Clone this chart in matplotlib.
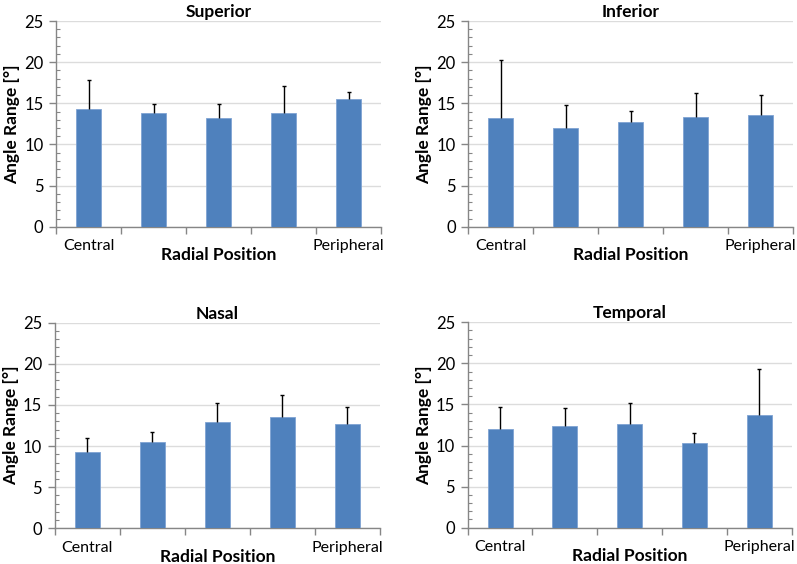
"""Angle range by radial position for four retinal quadrants"""
import matplotlib
matplotlib.use("Agg")
import matplotlib.pyplot as plt
from matplotlib.ticker import MultipleLocator, FixedLocator

plt.rcParams['font.family'] = ['Lato', 'DejaVu Sans']

positions = ['Central', '', '', '', 'Peripheral']

superior_mean = [14.3, 13.8, 13.25, 13.8, 15.5]
superior_sd = [3.5, 1.15, 1.62, 3.35, 0.83]
inferior_mean = [13.17, 12.0, 12.68, 13.37, 13.53]
inferior_sd = [7.05, 2.75, 1.42, 2.92, 2.47]
nasal_mean = [9.28, 10.49, 12.89, 13.5, 12.65]
nasal_sd = [1.74, 1.22, 2.31, 2.76, 2.07]
temporal_mean = [12.01, 12.34, 12.58, 10.27, 13.72]
temporal_sd = [2.72, 2.23, 2.56, 1.26, 5.56]

BAR = '#4F81BD'
GRID = '#DCDCDC'
AXIS = '#868686'


def plot_panel(ax, title, mean, sd):
    """Draws one bar panel with upward-only error bars"""
    x = list(range(len(mean)))
    top = [m + s for m, s in zip(mean, sd)]
    ax.bar(x, mean, width=0.385, color=BAR, edgecolor='#7FA3D3',
           linewidth=0.6, zorder=3)
    # plus-only error bars, like the Excel original
    ax.vlines(x, mean, top, color='black', linewidth=1.0, zorder=4)
    ax.plot(x, top, linestyle='none', marker='_', markersize=3.5,
            markeredgewidth=1.0, color='black', zorder=4)

    ax.set_xlim(-0.5, len(mean) - 0.5)
    ax.set_ylim(0, 25)
    ax.yaxis.set_major_locator(MultipleLocator(5))
    ax.yaxis.set_minor_locator(MultipleLocator(1))
    ax.grid(axis='y', which='major', color=GRID, linewidth=1.0, zorder=0)

    ax.set_xticks(x, positions)
    ax.xaxis.set_minor_locator(
        FixedLocator([i - 0.5 for i in range(len(mean) + 1)]))
    ax.tick_params(axis='x', which='major', length=0, pad=9,
                   labelsize=11.5, labelcolor='black')
    ax.tick_params(axis='x', which='minor', length=5, width=1.0,
                   color=AXIS, direction='out')
    ax.tick_params(axis='y', which='major', length=5, width=1.0,
                   color=AXIS, direction='out', labelsize=12, pad=4)
    ax.tick_params(axis='y', which='minor', length=3, width=0.8,
                   color=AXIS, direction='in')

    for side in ['top', 'right']:
        ax.spines[side].set_visible(False)
    for side in ['left', 'bottom']:
        ax.spines[side].set_color(AXIS)
        ax.spines[side].set_linewidth(1.0)

    ax.set_title(title, fontsize=12.5, fontweight='bold', pad=3)
    ax.set_ylabel('Angle Range [°]', fontsize=12.5, fontweight='bold',
                  labelpad=3)
    ax.set_xlabel('Radial Position', fontsize=12.5, fontweight='bold')
    ax.xaxis.set_label_coords(0.5, -0.1)
    return ax


def plot_all():
    """Builds the four-panel figure"""
    fig = plt.figure(figsize=(7.97, 5.64), dpi=100)
    ax1 = fig.add_axes([0.0703, 0.598, 0.4078, 0.3647])
    ax2 = fig.add_axes([0.5876, 0.598, 0.4074, 0.3647])
    ax3 = fig.add_axes([0.0684, 0.0633, 0.4084, 0.3645])
    ax4 = fig.add_axes([0.5868, 0.0644, 0.4065, 0.3642])

    plot_panel(ax1, 'Superior', superior_mean, superior_sd)
    plot_panel(ax2, 'Inferior', inferior_mean, inferior_sd)
    plot_panel(ax3, 'Nasal', nasal_mean, nasal_sd)
    plot_panel(ax4, 'Temporal', temporal_mean, temporal_sd)

    fig.savefig('out.png', dpi=100)


if __name__ == "__main__":
    plot_all()
